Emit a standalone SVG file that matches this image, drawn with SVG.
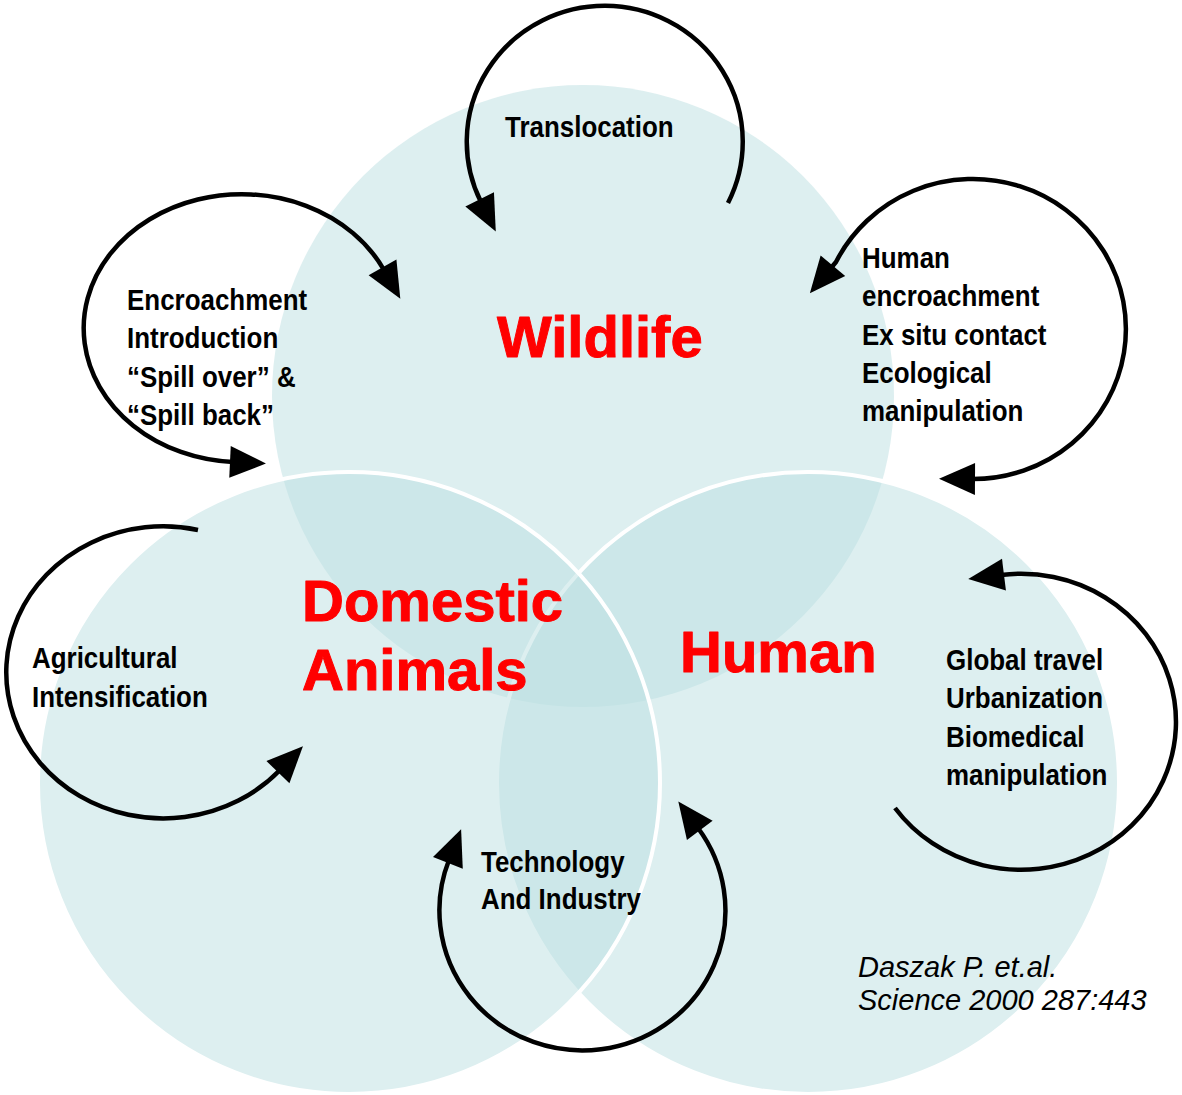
<svg xmlns="http://www.w3.org/2000/svg" width="1182" height="1095" viewBox="0 0 1182 1095">
<style>
.c{fill:#BBDFE2;fill-opacity:0.5}
.cs{stroke:#fff;stroke-width:4}
.node{font-family:"Liberation Sans",Arial,sans-serif;font-weight:bold;font-size:58px;fill:#FF0000;stroke:#FF0000;stroke-width:1;stroke-linejoin:round}
.lbl{font-family:"Liberation Sans",Arial,sans-serif;font-weight:bold;font-size:30px;fill:#000}
.cite{font-family:"Liberation Sans",Arial,sans-serif;font-style:italic;font-size:29px;fill:#000}
.arc{fill:none;stroke:#000;stroke-width:4.5}
</style>
<defs>
<marker id="ah" markerUnits="userSpaceOnUse" viewBox="0 -17 38 34" markerWidth="38" markerHeight="34" refX="3" refY="0" orient="auto-start-reverse" overflow="visible">
<path d="M0,-16 L36,0 L0,16 z" fill="#000"/>
</marker>
</defs>
<rect width="1182" height="1095" fill="#fff"/>
<g id="wildlife">
<circle class="c" cx="583" cy="396" r="311"/>
<text class="node" x="497" y="357">Wildlife</text>
</g>
<g id="human">
<circle class="c cs" cx="808" cy="783" r="311"/>
<text class="node" x="680" y="672">Human</text>
</g>
<g id="domestic">
<circle class="c cs" cx="349" cy="783" r="311"/>
<text class="node" x="302" y="621">Domestic</text>
<text class="node" x="302" y="690">Animals</text>
</g>
<g id="connectors">
<path class="arc" d="M728,203 A138,136 0 1 0 481,202" marker-end="url(#ah)"/>
<path class="arc" d="M384,270 A158,134 0 1 0 233,462" marker-start="url(#ah)" marker-end="url(#ah)"/>
<path class="arc" d="M831,268 L836,262 A153,150 0 1 1 972,479" marker-start="url(#ah)" marker-end="url(#ah)"/>
<path class="arc" d="M198,530 A157,146 0 1 0 280,770" marker-end="url(#ah)"/>
<path class="arc" d="M449,860 A143,140 0 1 0 698,828" marker-start="url(#ah)" marker-end="url(#ah)"/>
<path class="arc" d="M1001,575 A155,148 0 1 1 895,808" marker-start="url(#ah)"/>
</g>
<g id="labels">
<text class="lbl" transform="translate(505,137) scale(0.865 1)">Translocation</text>
<text class="lbl" transform="translate(127,310) scale(0.865 1)"><tspan x="0" y="0">Encroachment</tspan><tspan x="0" y="38.5">Introduction</tspan><tspan x="0" y="77">“Spill over” &amp;</tspan><tspan x="0" y="115.5">“Spill back”</tspan></text>
<text class="lbl" transform="translate(862,268) scale(0.865 1)"><tspan x="0" y="0">Human</tspan><tspan x="0" y="38.3">encroachment</tspan><tspan x="0" y="76.6">Ex situ contact</tspan><tspan x="0" y="114.9">Ecological</tspan><tspan x="0" y="153.2">manipulation</tspan></text>
<text class="lbl" transform="translate(32,668) scale(0.865 1)"><tspan x="0" y="0">Agricultural</tspan><tspan x="0" y="39">Intensification</tspan></text>
<text class="lbl" transform="translate(946,670) scale(0.865 1)"><tspan x="0" y="0">Global travel</tspan><tspan x="0" y="38.5">Urbanization</tspan><tspan x="0" y="77">Biomedical</tspan><tspan x="0" y="115.5">manipulation</tspan></text>
<text class="lbl" transform="translate(481,872) scale(0.865 1)"><tspan x="0" y="0">Technology</tspan><tspan x="0" y="37.5">And Industry</tspan></text>
<text class="cite" x="858" y="977">Daszak P. et.al.</text>
<text class="cite" x="858" y="1010">Science 2000 287:443</text>
</g>
</svg>
